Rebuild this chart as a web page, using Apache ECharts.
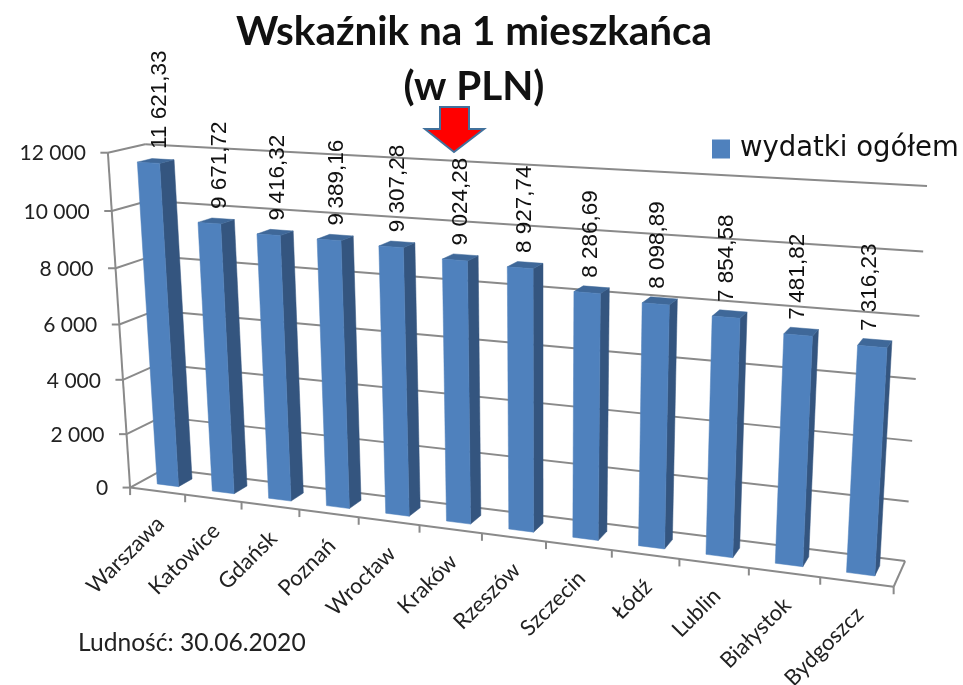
<!DOCTYPE html>
<html><head><meta charset="utf-8">
<style>html,body{margin:0;padding:0;background:#fff}#c{width:963px;height:685px}</style>
<script src="https://cdn.jsdelivr.net/npm/echarts@6/dist/echarts.min.js"></script>
</head><body><div id="c"></div>
<script>
const categories = ['Warszawa','Katowice','Gdańsk','Poznań','Wrocław','Kraków','Rzeszów','Szczecin','Łódź','Lublin','Białystok','Bydgoszcz'];
const values = [11621.33,9671.72,9416.32,9389.16,9307.28,9024.28,8927.74,8286.69,8098.89,7854.58,7481.82,7316.23];
const valueLabels = ['11 621,33','9 671,72','9\u2009416,32','9\u2009389,16','9 307,28','9 024,28','8 927,74','8 286,69','8 098,89','7 854,58','7\u2009481,82','7 316,23'];
const yTicks = [0,2000,4000,6000,8000,10000,12000];
const yTickLabels = ['0','2 000','4 000','6 000','8 000','10 000','12 000'];
const seriesName = 'wydatki ogółem';

// Hidden cartesian grid: the library's scales give normalised plot positions,
// which a perspective camera (fitted to the plot-box corners) turns into pixels.
const G = {x:100,y:100,w:600,h:400};
const calib = [ // [u,v,w, px,py]
 [0,0,0,130,487],[1,0,0,894,586],[0,1,0,108,153],[0,0,1,165,469],[1,0,1,905,561],
 [0,1,1,145,144],[1,1,1,927,186],[1/12,0,0,185,495],[11/12,0,0,820,578]
];
function fit(){
  const A=[],b=[];
  calib.forEach(([u,v,w,x0,y0])=>{const x=x0/1000,y=y0/1000;
    A.push([u,v,w,1,0,0,0,0,-x*u,-x*v,-x*w]);b.push(x);
    A.push([0,0,0,0,u,v,w,1,-y*u,-y*v,-y*w]);b.push(y);});
  const n=11,M=[];
  for(let i=0;i<n;i++){M[i]=[];for(let j=0;j<=n;j++){let s=0;
    for(let k=0;k<A.length;k++)s+=A[k][i]*(j<n?A[k][j]:b[k]);M[i][j]=s;}}
  for(let i=0;i<n;i++){let p=i;for(let r=i+1;r<n;r++)if(Math.abs(M[r][i])>Math.abs(M[p][i]))p=r;
    [M[i],M[p]]=[M[p],M[i]];
    for(let r=0;r<n;r++)if(r!==i){const f=M[r][i]/M[i][i];for(let c=i;c<=n;c++)M[r][c]-=f*M[i][c];}}
  return M.map((r,i)=>r[n]/r[i]);
}
const H=fit();
function proj(u,v,w){const d=H[8]*u+H[9]*v+H[10]*w+1;
  return [1000*(H[0]*u+H[1]*v+H[2]*w+H[3])/d,1000*(H[4]*u+H[5]*v+H[6]*w+H[7])/d];}
function uOf(px){return (px-G.x)/G.w}
function vOf(py){return (G.y+G.h-py)/G.h}

const LINE='#8a8a8a', LW=2;
const seg=(a,b,w)=>({type:'line',shape:{x1:a[0],y1:a[1],x2:b[0],y2:b[1]},style:{stroke:LINE,lineWidth:w||LW}});
const poly=(pts,fill)=>({type:'polygon',shape:{points:pts},style:{fill:fill,stroke:fill,lineWidth:0.5}});

function renderWall(params,api){
  const val=api.value(0), v=vOf(api.coord([0,val])[1]);
  const c=[seg(proj(0,v,0),proj(0,v,1)),seg(proj(0,v,1),proj(1,v,1))];
  const a=proj(0,v,0);
  c.push(seg([a[0]-7.5,a[1]],a));
  c.push({type:'text',x:a[0]-22,y:a[1]+1,style:{text:yTickLabels[params.dataIndex],fontFamily:'Lato',fontSize:21,fill:'#222',align:'right',verticalAlign:'middle'}});
  if(val===yTicks[yTicks.length-1]) c.push(seg(proj(0,0,0),proj(0,v,0)));
  if(val===yTicks[0]) c.push(seg(proj(0,0,0),proj(1,0,0)),seg(proj(1,0,0),proj(1,0,1)));
  return {type:'group',children:c};
}
function renderCat(params,api){
  const i=params.dataIndex, cx=api.coord([i,0])[0], bw=api.size([1,0])[0];
  const uL=uOf(cx-bw/2), uR=uOf(cx+bw/2), uC=uOf(cx);
  const mk=u=>{const p=proj(u,0,0);return seg(p,[p[0],p[1]+7.5]);};
  const c=[mk(uL)];
  if(i===categories.length-1)c.push(mk(uR));
  const m=proj(uC,0,0);
  c.push({type:'text',x:m[0]+3,y:m[1]+29,rotation:Math.PI/4,style:{text:categories[i],fontFamily:'Lato',fontSize:22,fill:'#222',align:'right',verticalAlign:'middle'}});
  return {type:'group',children:c};
}
const W0=0.3,W1=0.7,HALF=0.195;
function renderBar(params,api){
  const i=params.dataIndex, val=api.value(1);
  const t=api.coord([i,val]), bw=api.size([1,0])[0];
  const uC=uOf(t[0]), d=bw/G.w*HALF, v=vOf(t[1]);
  const u0=uC-d,u1=uC+d;
  const front=[proj(u0,0,W0),proj(u1,0,W0),proj(u1,v,W0),proj(u0,v,W0)];
  const side=[proj(u1,0,W0),proj(u1,0,W1),proj(u1,v,W1),proj(u1,v,W0)];
  const top=[proj(u0,v,W0),proj(u1,v,W0),proj(u1,v,W1),proj(u0,v,W1)];
  const lab=proj(uC,v,(W0+W1)/2);
  const lx=lab[0]+(480-lab[0])*0.012, ly=lab[1]-12;
  return {type:'group',children:[poly(side,'#34557f'),poly(top,'#3f6899'),poly(front,'#4f81bd'),
    {type:'text',x:lx,y:ly,rotation:Math.PI/2,style:{text:valueLabels[i],fontFamily:'Liberation Sans',fontSize:22.5,fill:'#111',align:'left',verticalAlign:'middle'}}]};
}
const chart=echarts.init(document.getElementById('c'),null,{renderer:'canvas'});
chart.setOption({
  animation:false,backgroundColor:'#fff',
  title:{text:'Wskaźnik na 1 mieszkańca\n(w PLN)',left:469,top:-1,textAlign:'center',
    textStyle:{fontFamily:'Lato',fontWeight:'bold',fontSize:40.4,lineHeight:55,color:'#111'}},
  legend:{data:[{name:seriesName,icon:'rect'}],left:707,top:130,itemWidth:18,itemHeight:19,itemGap:0,
    textStyle:{fontFamily:'DejaVu Sans',fontSize:27.5,color:'#111',padding:[0,0,0,5]}},
  grid:{left:G.x,top:G.y,width:G.w,height:G.h,show:false},
  xAxis:{type:'category',data:categories,show:false},
  yAxis:{type:'value',min:0,max:12000,interval:2000,show:false},
  series:[
   {type:'custom',name:'siatka',silent:true,data:yTicks.map(t=>[t]),encode:{y:0},renderItem:renderWall,clip:false,z:1},
   {type:'custom',name:'kategorie',silent:true,data:categories.map((c,i)=>[i]),encode:{x:0},renderItem:renderCat,clip:false,z:2},
   {type:'custom',name:seriesName,data:values.map((v,i)=>[i,v]),encode:{x:0,y:1},renderItem:renderBar,clip:false,z:3,itemStyle:{color:'#4f81bd'}}
  ],
  graphic:[
   {type:'polygon',z:10,shape:{points:[[440,107],[469,107],[469,129],[484,129],[454,152],[425,129],[440,129]]},style:{fill:'#ff0000',stroke:'#41719c',lineWidth:2}},
   {type:'text',z:10,left:78,top:631,style:{text:'Ludność: 30.06.2020',fontFamily:'Lato',fontSize:24.6,fill:'#222'}}
  ]
});
</script></body></html>
